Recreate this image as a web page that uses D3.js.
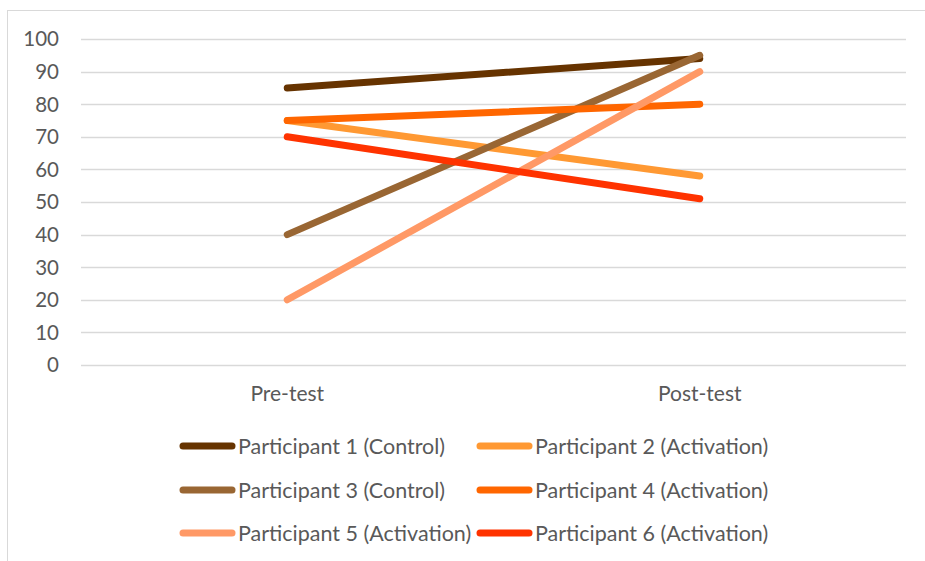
<!DOCTYPE html>
<html><head><meta charset="utf-8">
<script src="https://cdn.jsdelivr.net/npm/d3@7"></script>
<style>
html,body{margin:0;padding:0;background:#fff;}
svg{display:block;}
text{font-family:Lato, "Open Sans", sans-serif;fill:#595959;}
</style></head>
<body>
<svg id="chart" width="925" height="561"></svg>
<script>
const categories = ["Pre-test", "Post-test"];
const seriesNames = ["Participant 1 (Control)", "Participant 2 (Activation)", "Participant 3 (Control)", "Participant 4 (Activation)", "Participant 5 (Activation)", "Participant 6 (Activation)"];
const p1 = [85, 94];
const p2 = [75, 58];
const p3 = [40, 95];
const p4 = [75, 80];
const p5 = [20, 90];
const p6 = [70, 51];
const colors = ["#663300", "#FF9933", "#996633", "#FF6600", "#FF9966", "#FF3300"];
const yTicks = [0, 10, 20, 30, 40, 50, 60, 70, 80, 90, 100];

const seriesValues = [p1, p2, p3, p4, p5, p6];
const series = seriesNames.map((n, i) => ({name: n, values: seriesValues[i], color: colors[i]}));

const svg = d3.select("#chart");
// chart border
svg.append("rect").attr("x", 7.5).attr("y", 10.5).attr("width", 940).attr("height", 600)
  .attr("fill", "none").attr("stroke", "#d9d9d9").attr("stroke-width", 1);

const mLeft = 81, mRight = 906, mTop = 39, mBottom = 365;
const x = d3.scaleBand().domain(categories).range([mLeft, mRight]);
const y = d3.scaleLinear().domain([0, 100]).range([mBottom, mTop]);

// gridlines
svg.append("g").selectAll("line").data(yTicks).join("line")
  .attr("x1", mLeft).attr("x2", mRight)
  .attr("y1", d => Math.round(y(d)) + 0.5).attr("y2", d => Math.round(y(d)) + 0.5)
  .attr("stroke", "#d9d9d9").attr("stroke-width", 1.3);

// y axis
const yAxis = svg.append("g").attr("transform", `translate(${mLeft},0)`)
  .call(d3.axisLeft(y).tickValues(yTicks).tickSize(0).tickPadding(22));
yAxis.select(".domain").remove();
yAxis.selectAll("text").style("font-size", "20.5px").style("font-family", "Lato").attr("fill", "#595959").attr("dy", "0.34em");

// x axis
const xAxis = svg.append("g").attr("transform", `translate(0,${mBottom})`)
  .call(d3.axisBottom(x).tickSize(0).tickPadding(21));
xAxis.select(".domain").remove();
xAxis.selectAll("text").style("font-size", "21px").style("font-family", "Lato").attr("fill", "#595959");

// lines
const line = d3.line().x((d, i) => x(categories[i]) + x.bandwidth() / 2).y(d => y(d));
svg.append("g").selectAll("path").data(series).join("path")
  .attr("d", d => line(d.values))
  .attr("fill", "none").attr("stroke", d => d.color)
  .attr("stroke-width", 7).attr("stroke-linecap", "round").attr("stroke-linejoin", "round");

// legend
const colX = [180, 477];
const rowY = [446, 490, 533];
const lg = svg.append("g").selectAll("g").data(series).join("g")
  .attr("transform", (d, i) => `translate(${colX[i % 2]},${rowY[Math.floor(i / 2)]})`);
lg.append("line").attr("x1", 3).attr("x2", 52).attr("y1", 0).attr("y2", 0)
  .attr("stroke", d => d.color).attr("stroke-width", 7).attr("stroke-linecap", "round");
lg.append("text").attr("x", 58).attr("y", 0).attr("dy", "0.35em")
  .style("font-size", "21.5px").text(d => d.name);
</script>
</body></html>
